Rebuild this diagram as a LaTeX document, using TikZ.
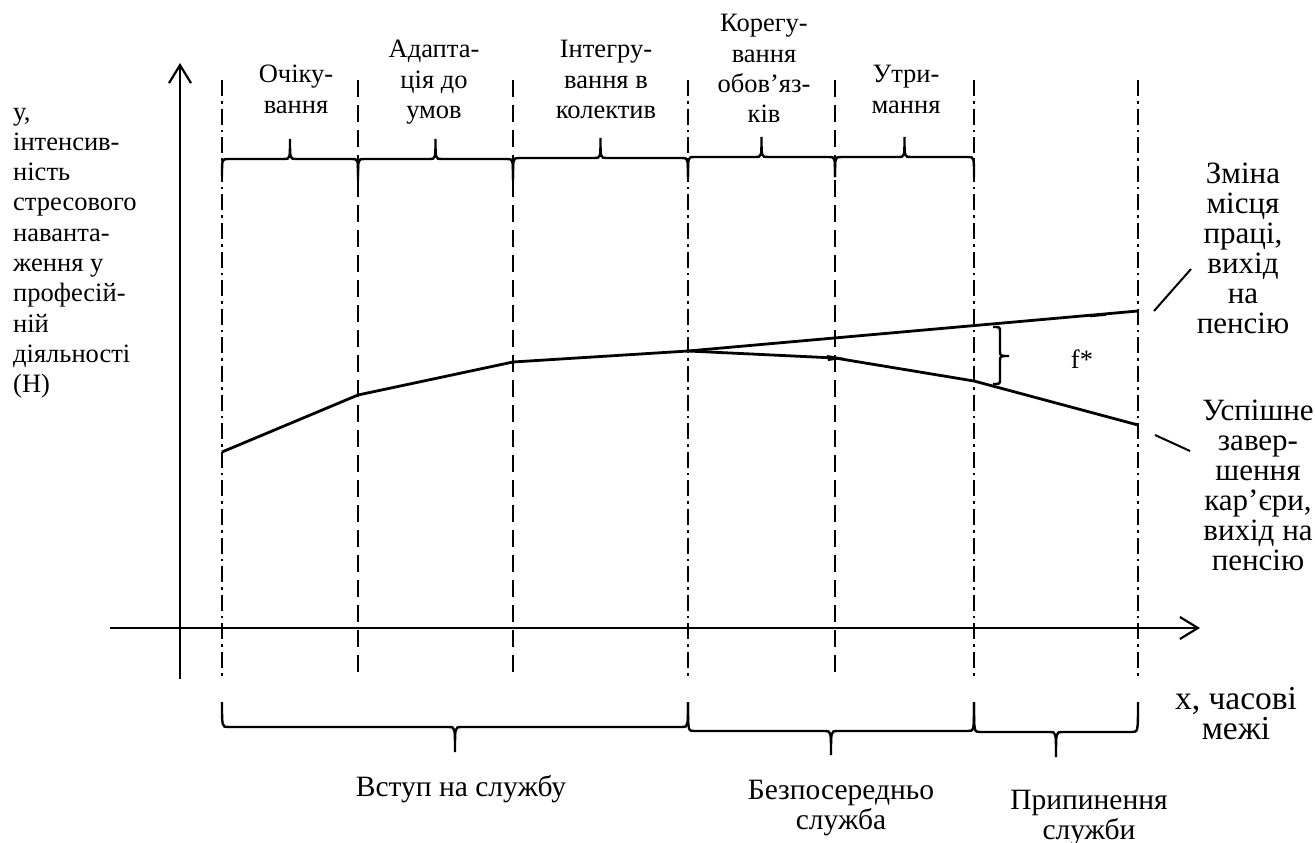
\documentclass[tikz,border=0pt]{standalone}
\usepackage{fontspec}
\setmainfont{Liberation Serif}
\usetikzlibrary{arrows.meta}

% multi-line label whose reference point is the baseline of its first line
\newcommand\stk[2][c]{\begin{tabular}[t]{@{}#1@{}}#2\end{tabular}}

% horizontal curly brace: #1 left x, #2 right x, #3 level of the bar,
% #4 offset of the end hooks, #5 offset of the middle tip
\newcommand\hbrace[5]{%
  \pgfmathsetmacro\bxm{(#1+#2)/2}%
  \draw[brc] (#1,#3+#4) .. controls (#1,#3) and (#1,#3) .. (#1+6,#3)
    -- (\bxm-6,#3) .. controls (\bxm,#3) and (\bxm,#3) .. (\bxm,#3+#5)
    .. controls (\bxm,#3) and (\bxm,#3) .. (\bxm+6,#3)
    -- (#2-6,#3) .. controls (#2,#3) and (#2,#3) .. (#2,#3+#4);%
}

\begin{document}
\begin{tikzpicture}[x=1pt,y=-1pt,
  every node/.style={inner sep=0pt,anchor=base,
    font=\fontsize{26.5}{30.3}\selectfont},
  side/.style={font=\fontsize{31}{30}\selectfont},
  period/.style={font=\fontsize{29.5}{30}\selectfont},
  axis/.style={line width=2.2pt,
    -{Straight Barb[length=18pt,width=22pt,line width=2.2pt]}},
  dashdot/.style={line width=2.8pt,
    dash pattern=on 16pt off 5pt on 2.6pt off 5pt},
  dashln/.style={line width=2.8pt,dash pattern=on 17pt off 8pt},
  curve/.style={line width=2.8pt,line join=round},
  brc/.style={line width=2.4pt},
  leader/.style={line width=2pt}]

\useasboundingbox (0,0) rectangle (1315,843);

% axes
\coordinate (ylo) at (180,679);
\coordinate (yhi) at (180,63);
\coordinate (xlo) at (110,628);
\coordinate (xhi) at (1200,628);
\draw[axis] (ylo) -- (yhi);
\draw[axis] (xlo) -- (xhi);

% boundaries of the stages
\foreach \x in {222,688,974,1138} \draw[dashdot] (\x,80) -- (\x,679);
\foreach \x in {358,513,835} \draw[dashln] (\x,80) -- (\x,679);

% stage braces along the top
\hbrace{222}{358}{159}{17}{-20}
\hbrace{358}{513}{159}{21}{-20}
\hbrace{513}{688}{158}{21}{-20}
\hbrace{688}{835}{157}{20}{-20}
\hbrace{835}{974}{157}{20}{-20}

% period braces along the bottom
\hbrace{222}{688}{727}{-25}{25}
\hbrace{688}{974}{731}{-29}{24}
\hbrace{974}{1138}{732}{-30}{25}

% stress intensity curve
\coordinate (p0) at (222,452);
\coordinate (p1) at (358,395);
\coordinate (p2) at (513,362);
\coordinate (p3) at (688,351);
\coordinate (u1) at (1138,311);
\coordinate (q1) at (835,358);
\coordinate (q2) at (974,381);
\coordinate (q3) at (1138,425);
\draw[curve] (p0) -- (p1) -- (p2) -- (p3) -- (u1);
\draw[curve] (p3) -- (q1) -- (q2) -- (q3);
\fill (827,355) -- (846,358.3) -- (828,361) -- cycle;
\draw[line width=1.6pt] (1090,316.5) -- (1106,315);

% gap between the two branches
\draw[brc] (993,327) .. controls (1000,327) and (1000,327) .. (1000,332)
  -- (1000,351) .. controls (1000,356) and (1000,356) .. (1009,356)
  .. controls (1000,356) and (1000,356) .. (1000,361)
  -- (1000,379) .. controls (1000,384) and (1000,384) .. (993,384);
\node (f) at (1082,368) {f*};

% leaders to the outcomes
\coordinate (la) at (1154,311);
\coordinate (lb) at (1191,269);
\coordinate (lc) at (1155,435);
\coordinate (ld) at (1190,451);
\draw[leader] (la) -- (lb);
\draw[leader] (lc) -- (ld);

% stage names
\node (s1) at (296,83)  {\stk{Очіку-\\вання}};
\node (s2) at (434,58)  {\stk{Адапта-\\ція до\\умов}};
\node (s3) at (606,58)  {\stk{Інтегру-\\вання в\\колектив}};
\node (s4) at (764,32)  {\stk{Корегу-\\вання\\обов’яз-\\ків}};
\node (s5) at (906,83)  {\stk{Утри-\\мання}};

% axis titles
\node[anchor=base west] (ya) at (13,120)
  {\stk[l]{у,\\інтенсив-\\ність\\стресового\\наванта-\\ження у\\професій-\\ній\\діяльності\\(Н)}};
\node[font=\fontsize{33.5}{29}\selectfont] (xa) at (1236,709) {\stk{x, часові\\межі}};

% outcomes
\node[side] (o1) at (1243,183) {\stk{Зміна\\місця\\праці,\\вихід\\на\\пенсію}};
\node[side] (o2) at (1258,420) {\stk{Успішне\\завер-\\шення\\кар’єри,\\вихід на\\пенсію}};

% periods
\node[period] (t1) at (461,796) {Вступ на службу};
\node[period] (t2) at (841,799) {\stk{Безпосередньо\\служба}};
\node[period] (t3) at (1089,809) {\stk{Припинення\\служби}};

\end{tikzpicture}
\end{document}
